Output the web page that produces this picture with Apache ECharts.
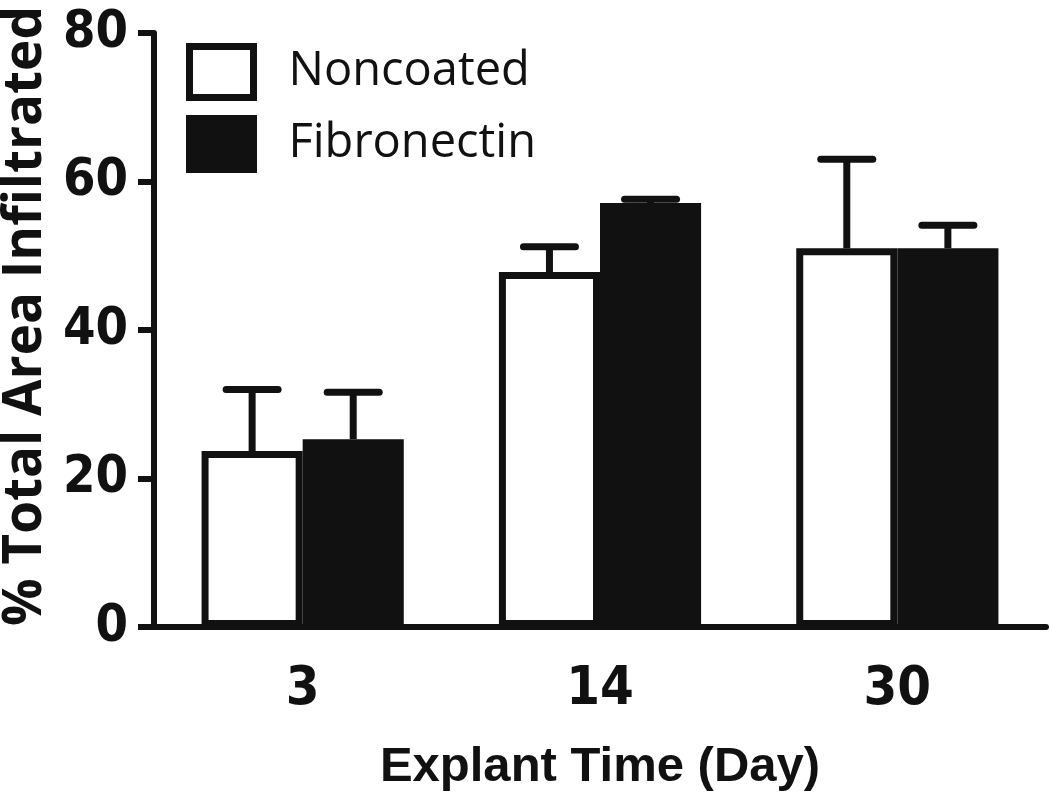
<!DOCTYPE html>
<html>
<head>
<meta charset="utf-8">
<script src="https://cdn.jsdelivr.net/npm/echarts@6/dist/echarts.min.js"></script>
<style>
html,body{margin:0;padding:0;background:#fff;}
#chart{width:1050px;height:799px;}
</style>
</head>
<body>
<div id="chart"></div>
<script>
const categories = ['3', '14', '30'];
const seriesNames = ['Noncoated', 'Fibronectin'];
const noncoatedMean = [23.7, 47.8, 51.0];
const noncoatedErrTop = [32.0, 51.2, 63.0];
const fibronectinMean = [25.3, 57.1, 51.0];
const fibronectinErrTop = [31.6, 57.6, 54.1];
const yTicks = [0, 20, 40, 60, 80];

const INK = '#111111';
const GAP = 0.32;
const TICK_FONT = "'DejaVu Sans Condensed', 'Liberation Sans', sans-serif";

function errData(mean, top) {
  return mean.map((m, i) => [i, m, top[i]]);
}

function makeErr(sign) {
  return function (params, api) {
    const idx = api.value(0);
    const mean = api.value(1);
    const top = api.value(2);
    const band = api.size([1, 0])[0];
    const barW = band * (1 - GAP) / 2;
    const base = api.coord([idx, mean]);
    const tp = api.coord([idx, top]);
    const x = base[0] + sign * barW / 2;
    const capHalf = 26;
    return {
      type: 'group',
      children: [
        { type: 'line', shape: { x1: x, y1: base[1], x2: x, y2: tp[1] },
          style: { stroke: INK, lineWidth: 7 } },
        { type: 'line', shape: { x1: x - capHalf, y1: tp[1], x2: x + capHalf, y2: tp[1] },
          style: { stroke: INK, lineWidth: 7, lineCap: 'round' } }
      ]
    };
  };
}

const chart = echarts.init(document.getElementById('chart'));
chart.setOption({
  animation: false,
  backgroundColor: '#ffffff',
  grid: { left: 154, right: 4, top: 33, bottom: 172, outerBoundsMode: 'none', containLabel: false },
  legend: {
    data: seriesNames,
    orient: 'vertical',
    left: 181,
    top: 38,
    itemWidth: 64,
    itemHeight: 51,
    itemGap: 14,
    icon: 'rect',
    itemStyle: { borderWidth: 7, borderColor: INK },
    textStyle: { fontFamily: 'Open Sans', fontSize: 47, color: INK, padding: [0, 0, 0, 30] }
  },
  xAxis: {
    type: 'category',
    data: categories,
    name: 'Explant Time (Day)',
    nameLocation: 'middle',
    nameGap: 116,
    nameTextStyle: { fontFamily: 'Liberation Sans', fontWeight: 'bold', fontSize: 49, color: INK },
    axisLine: { lineStyle: { color: INK, width: 6 } },
    axisTick: { alignWithLabel: true, length: 16, lineStyle: { color: INK, width: 6 } },
    axisLabel: { fontFamily: TICK_FONT, fontWeight: 'bold', fontSize: 54, color: INK, margin: 36 }
  },
  yAxis: {
    type: 'value',
    min: 0,
    max: 80,
    interval: 20,
    name: '% Total Area Infiltrated',
    nameLocation: 'middle',
    nameRotate: 90,
    nameGap: 88,
    nameTextStyle: { fontFamily: 'Open Sans', fontWeight: 'bold', fontSize: 53, color: INK, padding: [0, 0, 0, 28] },
    splitLine: { show: false },
    axisLine: { show: true, lineStyle: { color: INK, width: 6 } },
    axisTick: { show: true, length: 16, lineStyle: { color: INK, width: 6 } },
    axisLabel: {
      fontFamily: TICK_FONT, fontWeight: 'bold', fontSize: 52, color: INK, margin: 26,
      formatter: v => yTicks.includes(v) ? String(v) : ''
    }
  },
  series: [
    {
      name: seriesNames[0], type: 'bar', data: noncoatedMean,
      barGap: '0%', barCategoryGap: (GAP * 100) + '%',
      itemStyle: { color: '#ffffff', borderColor: INK, borderWidth: 7 }, z: 2
    },
    {
      name: seriesNames[1], type: 'bar', data: fibronectinMean,
      barGap: '0%', barCategoryGap: (GAP * 100) + '%',
      itemStyle: { color: INK, borderColor: INK, borderWidth: 7 }, z: 2
    },
    {
      type: 'custom', renderItem: makeErr(-1), data: errData(noncoatedMean, noncoatedErrTop),
      encode: { x: 0, y: [1, 2] }, z: 1, silent: true
    },
    {
      type: 'custom', renderItem: makeErr(1), data: errData(fibronectinMean, fibronectinErrTop),
      encode: { x: 0, y: [1, 2] }, z: 1, silent: true
    }
  ]
});
</script>
</body>
</html>
